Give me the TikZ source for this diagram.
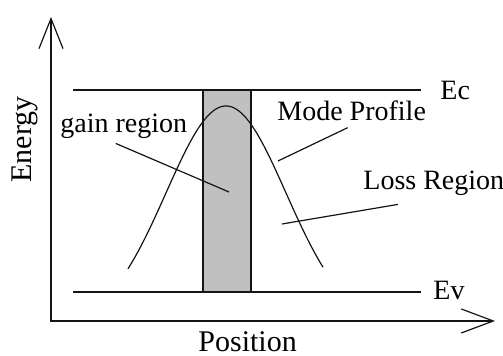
\documentclass[tikz,border=0pt]{standalone}
\usepackage{fontspec}
\setmainfont{Liberation Serif}
\usepackage{tikz}
\usetikzlibrary{arrows.meta, positioning, calc}
\definecolor{mygray}{RGB}{192,192,192}
\definecolor{mydark}{RGB}{20,20,20}
\tikzset{
  axis/.style={draw=mydark, line width=1.1pt, {Straight Barb[length=15pt, width=12pt, line width=0.6pt]}-{Straight Barb[length=16pt, width=12pt, line width=0.6pt]}},
  level/.style={draw=mydark, line width=1.1pt},
  leader/.style={draw=mydark, line width=0.6pt},
  profile/.style={draw=mydark, line width=0.6pt},
  gainbox/.style={fill=mygray, draw=mydark, line width=0.8pt},
  lbl/.style={font=\fontsize{14}{16}\selectfont, inner sep=0pt, anchor=base west}
}

\begin{document}
\begin{tikzpicture}[x=0.5pt, y=-0.5pt]
  \useasboundingbox (0,0) rectangle (503,356);

  % axes
  \coordinate (ytip) at (51,17);
  \coordinate (origin) at (51,321);
  \coordinate (xtip) at (495,321);
  \draw [axis] (ytip) -- (origin) -- (xtip);

  % active region
  \fill [mygray] (203,90) rectangle (251,292);
  \draw [level] (203,90) -- (203,292);
  \draw [level] (251,90) -- (251,292);

  % band edges
  \coordinate (ecl) at (73,90);
  \coordinate (ecr) at (421,90);
  \coordinate (evl) at (73,292);
  \coordinate (evr) at (421,292);
  \draw [level] (ecl) -- (ecr);
  \draw [level] (evl) -- (evr);

  % mode profile
  \draw [profile] plot [domain=-98:97, samples=80, smooth]
    ({226+\x}, {106+221*(1-exp(0-((\x)*(\x))/7200))});

  % labels
  \node [lbl] (ec) at (440,100) {Ec};
  \node [lbl] (ev) at (433,300) {Ev};
  \node [lbl] (gain) at (60,133) {gain region};
  \node [lbl] (mode) at (277,121) {Mode Profile};
  \node [lbl] (loss) at (363,190) {Loss Region};
  \node [lbl, font=\fontsize{15}{17}\selectfont] (pos) at (198,352) {Position};
  \node [lbl, rotate=90, font=\fontsize{15}{17}\selectfont] (energy) at (32,183) {Energy};

  % leaders
  \coordinate (gainpt) at (229,192);
  \coordinate (modept) at (278,161);
  \coordinate (losspt) at (282,224);
  \draw [leader] ([xshift=-4pt, yshift=-2pt]gain.south) -- (gainpt);
  \draw [leader] ([xshift=-2pt, yshift=-3pt]mode.south) -- (modept);
  \draw [leader] ([xshift=-18pt, yshift=-4pt]loss.south) -- (losspt);
\end{tikzpicture}
\end{document}
